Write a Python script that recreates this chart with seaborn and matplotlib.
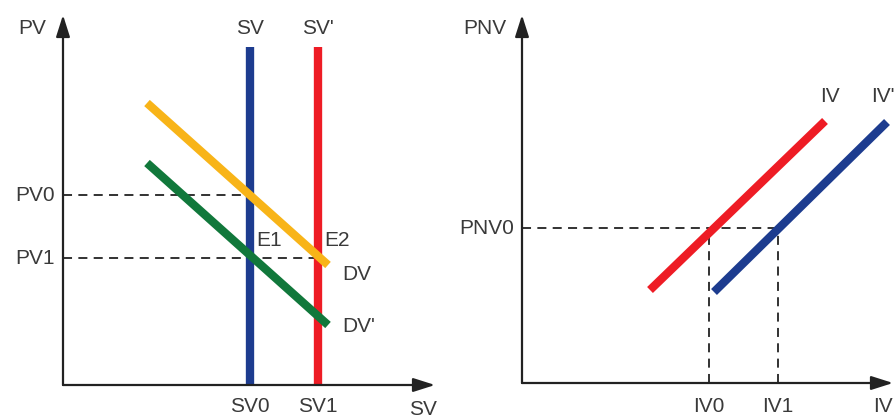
import pandas as pd
import matplotlib.pyplot as plt
import seaborn as sns

# left panel: supply / demand (units measured from the origin)
sv_levels = [187, 255]          # SV0, SV1
sv_top = 338
pv_levels = [190, 127]          # PV0, PV1
dv_x = [84, 265]
dv_y = [282, 120]
dv2_x = [84, 265]
dv2_y = [222, 60]

# right panel
iv_x = [128, 303]
iv_y = [93, 262]
iv2_x = [192, 365]
iv2_y = [91, 261]
pnv0 = 155
iv_levels = [187, 256]          # IV0, IV1

blue = '#1d3c8f'
red = '#ee1c25'
yellow = '#f8b418'
green = '#11783b'
ink = '#3a3a3a'

sns.set_theme(style='white')
plt.rcParams['font.family'] = ['Liberation Sans', 'DejaVu Sans']

fig = plt.figure(figsize=(8.96, 4.19), dpi=100)
ax1 = fig.add_axes([0, 0, 0.5, 1])
ax2 = fig.add_axes([0.5, 0, 0.5, 1])

dash = (0, (5, 3.5))


def draw_axes(ax, xmax, ymax):
    style = '-|>,head_length=1.1,head_width=0.35'
    ax.annotate('', xy=(xmax, 0), xytext=(0, 0),
                arrowprops=dict(arrowstyle=style, color='#222222', lw=1.6,
                                shrinkA=0, shrinkB=0))
    ax.annotate('', xy=(0, ymax), xytext=(0, 0),
                arrowprops=dict(arrowstyle=style, color='#222222', lw=1.6,
                                shrinkA=0, shrinkB=0))
    ax.set_axis_off()


def seg(ax, xs, ys, color, lw=6):
    d = pd.DataFrame({'x': xs, 'y': ys})
    sns.lineplot(data=d, x='x', y='y', ax=ax, color=color, lw=lw,
                 solid_capstyle='butt', sort=False, estimator=None)


def label(ax, x, y, s, ha='center'):
    ax.text(x, y, s, fontsize=15, color=ink, ha=ha, va='center')


# ---- left panel
ax1.set_xlim(-63, 385)
ax1.set_ylim(-34, 385)
draw_axes(ax1, 372, 370)

for y, x_end in zip(pv_levels, sv_levels):
    ax1.plot([0, x_end], [y, y], ls=dash, color='#222222', lw=1.3)

seg(ax1, [sv_levels[0]] * 2, [0, sv_top], blue)
seg(ax1, [sv_levels[1]] * 2, [0, sv_top], red)
seg(ax1, dv_x, dv_y, yellow)
seg(ax1, dv2_x, dv2_y, green)

label(ax1, -17, 356, 'PV', ha='right')
label(ax1, -8, pv_levels[0], 'PV0', ha='right')
label(ax1, -8, pv_levels[1], 'PV1', ha='right')
label(ax1, sv_levels[0], 356, 'SV')
label(ax1, sv_levels[1], 356, "SV'")
label(ax1, sv_levels[0] + 6, pv_levels[1] + 18, 'E1', ha='left')
label(ax1, sv_levels[1] + 6, pv_levels[1] + 18, 'E2', ha='left')
label(ax1, dv_x[1] + 14, dv_y[1] - 10, 'DV', ha='left')
label(ax1, dv2_x[1] + 14, dv2_y[1] - 1, "DV'", ha='left')
label(ax1, sv_levels[0], -21, 'SV0')
label(ax1, sv_levels[1], -21, 'SV1')
label(ax1, 360, -24, 'SV')

# ---- right panel
ax2.set_xlim(-74, 374)
ax2.set_ylim(-36, 383)
draw_axes(ax2, 371, 368)

ax2.plot([0, iv_levels[1]], [pnv0, pnv0], ls=dash, color='#222222', lw=1.3)
for x in iv_levels:
    ax2.plot([x, x], [0, pnv0], ls=dash, color='#222222', lw=1.3)

seg(ax2, iv_x, iv_y, red)
seg(ax2, iv2_x, iv2_y, blue)

label(ax2, -16, 355, 'PNV', ha='right')
label(ax2, -8, pnv0, 'PNV0', ha='right')
label(ax2, iv_x[1] + 5, iv_y[1] + 25, 'IV')
label(ax2, 373, iv2_y[1] + 25, "IV'", ha='right')
label(ax2, iv_levels[0], -23, 'IV0')
label(ax2, iv_levels[1], -23, 'IV1')
label(ax2, 361, -23, 'IV')

fig.savefig('out.png', dpi=100)
